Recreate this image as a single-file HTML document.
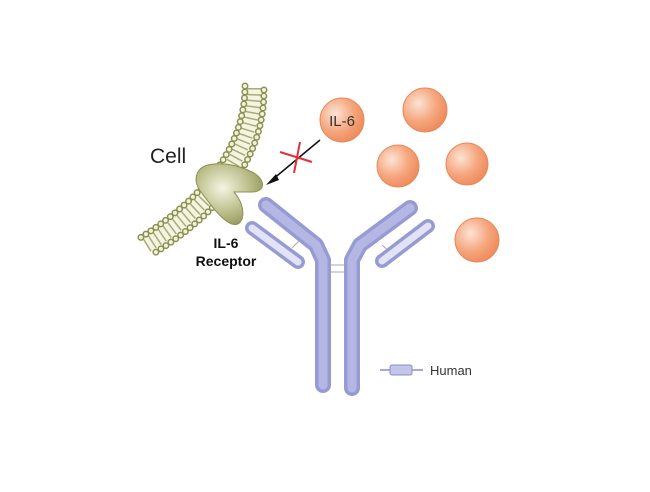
<!DOCTYPE html>
<html><head><style>body{margin:0;background:#fff}</style></head><body>
<svg width="650" height="487" viewBox="0 0 650 487" xmlns="http://www.w3.org/2000/svg" font-family="Liberation Sans, sans-serif">
<defs>
<radialGradient id="ball" cx="0.35" cy="0.35" r="0.7"><stop offset="0" stop-color="#fde3d4"/><stop offset="0.6" stop-color="#f5a57c"/><stop offset="1" stop-color="#ee8a5c"/></radialGradient>
<radialGradient id="rec" cx="0.4" cy="0.4" r="0.7"><stop offset="0" stop-color="#f4f5e2"/><stop offset="0.6" stop-color="#b9bc86"/><stop offset="1" stop-color="#8d9155"/></radialGradient>
</defs>
<!-- membrane -->
<g fill="none">
<path d="M254,88 C254,155 208,208 146,246" stroke="#f3f4e4" stroke-width="16"/>
<path d="M254,88 C254,155 208,208 146,246" stroke="#a9ad70" stroke-width="14" stroke-dasharray="1.5 4.5"/>
</g>
<g fill="none" stroke-linecap="round">
<path d="M245,86 C245,150 200,200 140,238" stroke="#8c9150" stroke-width="7" stroke-dasharray="0 6"/>
<path d="M264,90 C264,162 217,214 153,254" stroke="#8c9150" stroke-width="7" stroke-dasharray="0 6"/>
<path d="M245,86 C245,150 200,200 140,238" stroke="#f0f2dc" stroke-width="4" stroke-dasharray="0 6"/>
<path d="M264,90 C264,162 217,214 153,254" stroke="#f0f2dc" stroke-width="4" stroke-dasharray="0 6"/>
</g>
<!-- receptor -->
<path d="M198,172 C204,160 232,162 252,172 C266,179 266,192 252,192 L234,192 C248,208 244,228 232,224 C222,221 210,204 201,192 C195,184 195,178 198,172Z" fill="url(#rec)" stroke="#8d9155" stroke-width="1"/>
<text x="150" y="163" font-size="21" fill="#222">Cell</text>
<text x="226" y="248" font-size="14" font-weight="bold" text-anchor="middle" fill="#111">IL-6</text>
<text x="226" y="266" font-size="14" font-weight="bold" text-anchor="middle" fill="#111">Receptor</text>
<!-- arrow -->
<line x1="320" y1="140" x2="272" y2="180" stroke="#111" stroke-width="1.5"/>
<polygon points="266,185 276,174 279,180" fill="#111"/>
<line x1="280" y1="152" x2="312" y2="162" stroke="#e0303a" stroke-width="2"/>
<line x1="300" y1="142" x2="294" y2="173" stroke="#e0303a" stroke-width="2"/>
<!-- balls -->
<circle cx="342" cy="120" r="22" fill="url(#ball)" stroke="#e9885c"/>
<text x="342" y="126" font-size="15" text-anchor="middle" fill="#333">IL-6</text>
<circle cx="425" cy="110" r="22" fill="url(#ball)" stroke="#e9885c"/>
<circle cx="398" cy="166" r="21" fill="url(#ball)" stroke="#e9885c"/>
<circle cx="467" cy="164" r="21" fill="url(#ball)" stroke="#e9885c"/>
<circle cx="477" cy="240" r="22" fill="url(#ball)" stroke="#e9885c"/>
<!-- antibody -->
<g stroke="#aaa" stroke-width="1" fill="none">
<line x1="330" y1="265" x2="345" y2="265"/><line x1="330" y1="272" x2="345" y2="272"/>
<line x1="292" y1="248" x2="300" y2="240"/><line x1="382" y1="245" x2="390" y2="252"/>
</g>
<g fill="none" stroke-linecap="round" stroke-linejoin="round">
<path d="M266,205 L316,245 L323,260 L323,385" stroke="#979bd3" stroke-width="16"/>
<path d="M266,205 L316,245 L323,260 L323,385" stroke="#b4b7e4" stroke-width="9"/>
<path d="M410,208 L360,245 L352,260 L352,388" stroke="#979bd3" stroke-width="16"/>
<path d="M410,208 L360,245 L352,260 L352,388" stroke="#b4b7e4" stroke-width="9"/>
<path d="M252,228 L298,262" stroke="#979bd3" stroke-width="14"/>
<path d="M252,228 L298,262" stroke="#e2e3f6" stroke-width="7"/>
<path d="M428,226 L382,261" stroke="#979bd3" stroke-width="14"/>
<path d="M428,226 L382,261" stroke="#e2e3f6" stroke-width="7"/>
</g>
<!-- legend -->
<line x1="380" y1="370" x2="423" y2="370" stroke="#8a8ec8" stroke-width="1.5"/>
<rect x="390" y="365" width="22" height="10" rx="2" fill="#c3c6ea" stroke="#8a8ec8"/>
<text x="430" y="375" font-size="13" fill="#333">Human</text>
</svg>
</body></html>
